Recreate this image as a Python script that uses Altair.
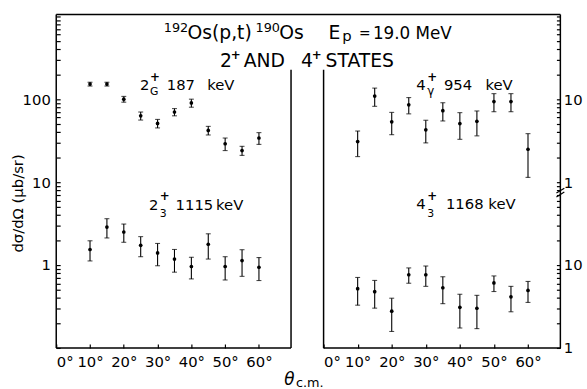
import altair as alt
import pandas as pd

# Scattering angles (degrees, c.m.) shared by all four states
ANGLES = [10, 15, 20, 25, 30, 35, 40, 45, 50, 55, 60]

# 2+ (ground band), 187 keV  [ub/sr]
G187 = [152, 152, 100, 63, 51, 70, 90, 42, 29, 24, 34]
G187_ERR = [8, 8, 8, 7, 6, 7, 10, 5, 5, 3, 5.5]

# 2+_3, 1115 keV
S1115 = [1.54, 2.87, 2.50, 1.73, 1.40, 1.18, 0.96, 1.78, 0.96, 1.13, 0.94]
S1115_ERR = [0.42, 0.75, 0.62, 0.47, 0.42, 0.36, 0.28, 0.60, 0.30, 0.40, 0.29]

# 4+ (gamma band), 954 keV
G954 = [3.08, 10.9, 5.33, 8.55, 4.27, 7.26, 5.08, 5.41, 9.36, 9.36, 2.49]
G954_ERR = [1.05, 2.7, 1.6, 1.9, 1.3, 1.8, 1.8, 1.8, 2.3, 2.3, 1.35]

# 4+_3, 1168 keV
S1168 = [5.18, 4.77, 2.78, 7.63, 7.63, 5.32, 3.09, 3.01, 6.09, 4.13, 4.94]
S1168_ERR = [1.9, 1.75, 1.2, 1.6, 2.1, 1.9, 1.35, 1.3, 1.3, 1.4, 1.4]

X_TICKS = [0, 10, 20, 30, 40, 50, 60]

FONT = "DejaVu Sans"
W_L, W_R, H = 238, 240, 338
GAP = 33
OX, OY = 57, 7            # page position of the left panel's plot area
X_DOMAIN = [0, 69.5]
Y_LEFT_DOMAIN = [0.1, 1050]
Y_RIGHT_DOMAIN = [1, 10500]
UPPER_SHIFT = 100         # the 4+ gamma-band data sit two decades up on the broken axis


def log_ticks(lo_exp, hi_exp):
    vals = [round(m * 10 ** e, 6) for e in range(lo_exp, hi_exp) for m in range(1, 10)]
    return vals + [round(10 ** hi_exp, 6)]


LEFT_TICKS = log_ticks(-1, 3)
RIGHT_TICKS = log_ticks(0, 4)

ONE = pd.DataFrame({"k": [0]})


def frame(df_vals, df_errs):
    return pd.DataFrame({"angle": ANGLES, "value": df_vals, "err": df_errs})


x_enc = alt.X(
    "angle:Q",
    scale=alt.Scale(domain=X_DOMAIN, nice=False, zero=False),
    axis=alt.Axis(values=X_TICKS, labelExpr="datum.value + '°'", offset=-4, tickSize=4,
                  domain=False, grid=False, title=None, labelPadding=7),
)


def y_left(field):
    return alt.Y(
        field,
        scale=alt.Scale(type="log", domain=Y_LEFT_DOMAIN, nice=False),
        axis=alt.Axis(values=LEFT_TICKS, offset=-4, tickSize=4, domain=False, grid=False,
                      labelOverlap=False, labelPadding=6,
                      labelExpr="datum.value == 1 ? '1' : datum.value == 10 ? '10' : datum.value == 100 ? '100' : ''",
                      title="dσ/dΩ (μb/sr)", titleFontSize=15, titleAngle=270,
                      titleBaseline="alphabetic", titleX=-38, titleY=191),
    )


def y_right(field):
    return alt.Y(
        field,
        scale=alt.Scale(type="log", domain=Y_RIGHT_DOMAIN, nice=False),
        axis=alt.Axis(values=RIGHT_TICKS, orient="right", offset=-4, tickSize=4, domain=False,
                      grid=False, labelOverlap=False, labelPadding=3, title=None,
                      labelExpr="datum.value == 1 ? '1' : datum.value == 10 ? '10' : "
                                "datum.value == 100 ? '1' : datum.value == 1000 ? '10' : ''"),
    )


def points(base, yfield, efield, yfun):
    bars = base.mark_errorbar(ticks=True, size=5, thickness=1.1, color="black").encode(
        x=x_enc, y=yfun(yfield), yError=alt.YError(efield))
    dots = base.mark_circle(size=14, color="black", opacity=1).encode(x=x_enc, y=yfun(yfield))
    return [bars, dots]


def seg(x1, y1, x2, y2, w=1.5):
    return alt.Chart(ONE).mark_rule(color="black", strokeWidth=w).encode(
        x=alt.value(x1), x2=alt.value(x2), y=alt.value(y1), y2=alt.value(y2))


def text(s, ax, ay, size, style="normal"):
    weight = "bold" if s == "+" else "normal"
    return alt.Chart(ONE).mark_text(text=s, font=FONT, fontSize=size, align="left",
                                    baseline="alphabetic", color="black", fill="black",
                                    fontStyle=style, fontWeight=weight).encode(
        x=alt.value(ax - OX), y=alt.value(ay - OY))


# heading, state labels and the shared x title (page coordinates)
ANNOTATIONS = [
    ("192", 166, 25, 13), ("Os(p,t)", 190, 32, 19), ("190", 259, 25, 13), ("Os", 283, 32, 19),
    ("E", 333, 32, 19), ("p", 347, 34, 15), ("=", 364, 31, 14), ("19.0 MeV", 378, 32, 17),
    ("2", 223, 60, 19), ("+", 234, 52, 12), ("AND", 247, 60, 19),
    ("4", 305, 60, 19), ("+", 316, 52, 12), ("STATES", 330, 60, 19),
    ("2", 142, 84, 15), ("+", 152, 74, 12), ("G", 152, 89, 11), ("187", 169, 84, 15), ("keV", 210, 84, 15),
    ("2", 151, 205, 15), ("+", 162, 195, 12), ("3", 162, 212, 11), ("1115", 178, 205, 15), ("keV", 219, 205, 15),
    ("4", 422, 84, 15), ("+", 433, 74, 12), ("γ", 433, 89, 12), ("954", 450, 84, 15), ("keV", 492, 84, 15),
    ("4", 422, 204, 15), ("+", 433, 195, 12), ("3", 433, 212, 11), ("1168", 452, 204, 15), ("keV", 495, 204, 15),
    ("c.m.", 300, 385, 13),
]

left_frame = [
    seg(0, 0, 0, H), seg(0, H, W_L, H), seg(W_L, 56, W_L, H),
    seg(0, 0, W_L + GAP + W_R, 0),
]
right_frame = [
    seg(0, 56, 0, H), seg(0, H, W_R, H), seg(W_R, 0, W_R, H),
    seg(W_R - 4, 181, W_R + 4, 176, 1.2), seg(W_R - 4, 185, W_R + 4, 180, 1.2),
]

labels = [text(s, ax, ay, fs) for s, ax, ay, fs in ANNOTATIONS]
labels.append(text("θ", 288, 383, 17, "italic"))

left = alt.layer(
    *left_frame,
    *points(alt.Chart(frame(G187, G187_ERR)), "value:Q", "err:Q", y_left),
    *points(alt.Chart(frame(S1115, S1115_ERR)), "value:Q", "err:Q", y_left),
    *labels,
).properties(width=W_L, height=H)

upper = alt.Chart(frame(G954, G954_ERR)).transform_calculate(
    shown=f"datum.value * {UPPER_SHIFT}", shown_err=f"datum.err * {UPPER_SHIFT}")

right = alt.layer(
    *right_frame,
    *points(upper, "shown:Q", "shown_err:Q", y_right),
    *points(alt.Chart(frame(S1168, S1168_ERR)), "value:Q", "err:Q", y_right),
).properties(width=W_R, height=H)

chart = alt.hconcat(left, right, spacing=GAP, bounds="flush").properties(
    padding={"left": 11, "top": 6, "right": 4, "bottom": 2}
).configure_view(stroke=None).configure_axis(
    labelFont=FONT, labelFontSize=15, labelColor="black", tickColor="black", tickWidth=1.2,
    titleFont=FONT, titleColor="black", titleFontWeight="normal",
)

chart.save("out.html", embed_options={"renderer": "svg", "actions": False})
